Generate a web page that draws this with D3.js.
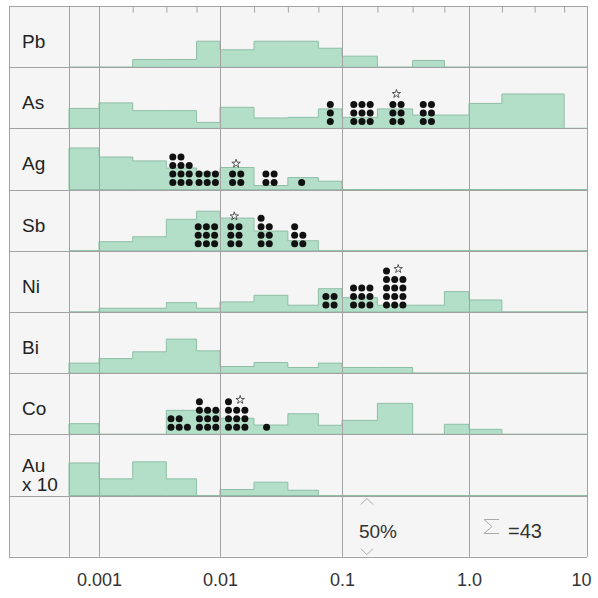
<!DOCTYPE html>
<html>
<head>
<meta charset="utf-8">
<script src="https://cdn.jsdelivr.net/npm/d3@7"></script>
<style>
body { margin: 0; background: #fff; }
svg { display: block; font-family: "Liberation Sans", Arial, Helvetica, sans-serif; }
</style>
</head>
<body>
<svg id="chart" width="598" height="598"></svg>
<script>
// rows, top to bottom
var elements = ["Pb", "As", "Ag", "Sb", "Ni", "Bi", "Co", "Au"];
var rowLabels = [["Pb"], ["As"], ["Ag"], ["Sb"], ["Ni"], ["Bi"], ["Co"], ["Au", "x 10"]];

// class limits of the histograms
var binEdges = [0.000565, 0.001, 0.0019, 0.0036, 0.0064, 0.01, 0.019, 0.036, 0.064,
                0.1, 0.19, 0.36, 0.64, 1, 1.9, 3.6, 6.4, 10];

// frequency (%) of each class
var histPb = [0, 0, 6.3, 6.3, 21.2, 14.2, 21.2, 21.2, 15.5, 9, 0, 5.5, 0, 0, 0, 0, 0];
var histAs = [16.3, 20.8, 14.5, 14.5, 4.9, 17.2, 8.5, 9, 15.9, 9, 15.9, 10.9, 10.9, 20.4, 28.1, 28.1, 0];
var histAg = [34, 26.6, 23.4, 17.6, 14.2, 18, 3.3, 9.8, 6.8, 0, 0, 0, 0, 0, 0, 0, 0];
var histSb = [0, 7.4, 11.4, 25.7, 32.3, 26.7, 16.1, 8.2, 0, 0, 0, 0, 0, 0, 0, 0, 0];
var histNi = [0, 3, 3, 7.6, 3, 8.2, 13.6, 5.5, 19, 11.7, 5.5, 5.5, 16.6, 9.8, 0, 0, 0];
var histBi = [8.2, 11.9, 17.4, 27.8, 18.2, 5.4, 8.7, 4.6, 8.2, 4.6, 4.6, 0, 0, 0, 0, 0, 0];
var histCo = [8.7, 0, 0, 19.6, 19.6, 13.1, 7.6, 16.8, 7.4, 11.4, 25.3, 0, 8.2, 4.1, 0, 0, 0];
var histAu = [26.6, 13.6, 27.5, 13.6, 0, 4.9, 10.9, 4.3, 0, 0, 0, 0, 0, 0, 0, 0, 0];
var histData = [histPb, histAs, histAg, histSb, histNi, histBi, histCo, histAu];

// single samples: [concentration, number of samples, columns, star]
var dotsAs = [[0.0802, 3, 1, 0], [0.1437, 9, 3, 0], [0.271, 6, 2, 1], [0.47, 6, 2, 0]];
var dotsAg = [[0.00476, 11, 3, 0], [0.00784, 6, 3, 0], [0.0137, 4, 2, 1], [0.0257, 4, 2, 0], [0.0467, 1, 1, 0]];
var dotsSb = [[0.00772, 9, 3, 0], [0.01325, 6, 2, 1], [0.02346, 7, 2, 0], [0.0442, 5, 2, 0]];
var dotsNi = [[0.0797, 4, 2, 0], [0.143, 9, 3, 0], [0.26, 13, 3, 1]];
var dotsCo = [[0.0046, 5, 3, 0], [0.0079, 10, 3, 0], [0.0137, 10, 3, 1], [0.0241, 1, 1, 0]];
var dotData = {As: dotsAs, Ag: dotsAg, Sb: dotsSb, Ni: dotsNi, Co: dotsCo};

var tickValues = [0.001, 0.01, 0.1, 1, 10];
var tickLabels = ["0.001", "0.01", "0.1", "1.0", "10"];
var scaleLabel = "50%";
var scaleValue = 50;
var totalLabel = "=43";

var svg = d3.select("#chart");
var frameLeft = 9, plotLeft = 69, plotRight = 587, plotTop = 6, plotBottom = 556.7;
var gridColor = "#a2a2a2";

var x = d3.scaleLog()
    .domain([binEdges[0], 0.001, 0.01, 0.1, 1, 10])
    .range([plotLeft, 99, 220, 342, 469, plotRight]);

var rows = elements.concat(["legend"]);
var y = d3.scaleBand().domain(rows).range([plotTop, plotBottom]);
var h = d3.scaleLinear().domain([0, scaleValue]).range([0, y.bandwidth()]);

svg.append("rect")
    .attr("x", frameLeft).attr("y", plotTop)
    .attr("width", plotRight - frameLeft).attr("height", plotBottom - plotTop)
    .attr("fill", "#f5f5f5");

// histograms
var area = d3.area()
    .curve(d3.curveStepAfter)
    .x(function(d) { return x(d.e); })
    .y0(function(d) { return d.base; })
    .y1(function(d) { return d.base - h(d.v); });

elements.forEach(function(el, i) {
    var vals = histData[i];
    var base = y(el) + y.bandwidth();
    var pts = binEdges.map(function(e, j) {
        return {e: e, v: vals[Math.min(j, vals.length - 1)], base: base};
    });
    svg.append("path")
        .datum(pts)
        .attr("d", area)
        .attr("fill", "#b3dfc9")
        .attr("stroke", "#8fbea6")
        .attr("stroke-width", 1);
});

// grid
var hLines = rows.map(function(r) { return y(r); }).concat([plotBottom]);
svg.append("g").selectAll("line")
    .data(hLines)
    .enter().append("line")
    .attr("x1", frameLeft).attr("x2", plotRight)
    .attr("y1", function(d) { return Math.round(d) + 0.5; })
    .attr("y2", function(d) { return Math.round(d) + 0.5; })
    .attr("stroke", gridColor);

var vLines = [frameLeft, plotLeft].concat(tickValues.map(function(t) { return x(t); }));
svg.append("g").selectAll("line")
    .data(vLines)
    .enter().append("line")
    .attr("x1", function(d) { return Math.round(d) + 0.5; })
    .attr("x2", function(d) { return Math.round(d) + 0.5; })
    .attr("y1", plotTop).attr("y2", plotBottom)
    .attr("stroke", gridColor);

// small ticks on top at the class limits
var minorTicks = binEdges.filter(function(e, j) {
    return j > 0 && tickValues.indexOf(e) < 0;
});
var topAxis = svg.append("g")
    .attr("transform", "translate(0," + (Math.round(plotTop) + 0.5) + ")")
    .call(d3.axisTop(x).tickValues(minorTicks).tickSize(-6).tickFormat(""));
topAxis.select(".domain").remove();
topAxis.selectAll("line").attr("stroke", gridColor);

// row labels
elements.forEach(function(el, i) {
    var lines = rowLabels[i];
    var y0 = y(el) + (lines.length > 1 ? 38 : 42);
    svg.append("text")
        .attr("x", 22)
        .attr("font-size", 19)
        .attr("fill", "#222")
        .selectAll("tspan")
        .data(lines)
        .enter().append("tspan")
        .attr("x", 22)
        .attr("y", function(d, k) { return y0 + k * 19; })
        .text(function(d) { return d; });
});

// dots
var dx = 8.2, dy = 8.5, rad = 3.5;
var star = d3.symbol().type(d3.symbolStar).size(22);
Object.keys(dotData).forEach(function(el) {
    var base = y(el) + y.bandwidth();
    var g = svg.append("g");
    dotData[el].forEach(function(grp) {
        var cx = x(grp[0]), n = grp[1], cols = grp[2];
        var slot = function(k) {
            var r = Math.floor(k / cols), c = k % cols;
            return [cx + (c - (cols - 1) / 2) * dx, base - 7 - r * dy];
        };
        g.selectAll(null)
            .data(d3.range(n))
            .enter().append("circle")
            .attr("cx", function(k) { return slot(k)[0]; })
            .attr("cy", function(k) { return slot(k)[1]; })
            .attr("r", rad)
            .attr("fill", "#111");
        if (grp[3]) {
            var p = slot(n);
            g.append("path")
                .attr("d", star)
                .attr("transform", "translate(" + (p[0] + 3.5) + "," + (p[1] - 2) + ")")
                .attr("fill", "#fff")
                .attr("stroke", "#444")
                .attr("stroke-width", 0.9);
        }
    });
});

// legend row: 50% height bar and total
var legTop = y("legend"), legBot = legTop + y.bandwidth();
var cxArrow = x(0.157);
svg.append("path")
    .attr("d", "M" + (cxArrow - 6) + "," + (legTop + 9) + "L" + cxArrow + "," + (legTop + 3) + "L" + (cxArrow + 6) + "," + (legTop + 9)
        + "M" + (cxArrow - 6) + "," + (legBot - 8) + "L" + cxArrow + "," + (legBot - 2) + "L" + (cxArrow + 6) + "," + (legBot - 8))
    .attr("fill", "none")
    .attr("stroke", "#aaa")
    .attr("stroke-width", 1);
svg.append("text")
    .attr("x", cxArrow - 8)
    .attr("y", legTop + 42)
    .attr("font-size", 19)
    .attr("fill", "#333")
    .text(scaleLabel);

var sx = x(1) + 15, sy = legTop + 24;
svg.append("path")
    .attr("d", "M" + (sx + 15) + "," + sy + "H" + sx + "L" + (sx + 8) + "," + (sy + 7)
        + "L" + sx + "," + (sy + 14) + "H" + (sx + 15))
    .attr("fill", "none")
    .attr("stroke", "#aaa")
    .attr("stroke-width", 1);
svg.append("text")
    .attr("x", sx + 24)
    .attr("y", legTop + 42)
    .attr("font-size", 20)
    .attr("fill", "#333")
    .text(totalLabel);

// x axis labels
var xAxis = svg.append("g")
    .attr("transform", "translate(0," + plotBottom + ")")
    .call(d3.axisBottom(x)
        .tickValues(tickValues)
        .tickFormat(function(d, i) { return tickLabels[i]; })
        .tickSize(0)
        .tickPadding(17));
xAxis.select(".domain").remove();
xAxis.attr("font-size", 18).attr("font-family", null);
xAxis.selectAll("text").attr("fill", "#333");
// last label sits inside the right edge
xAxis.selectAll("text").filter(function(d) { return d === 10; }).attr("dx", -6);
</script>
</body>
</html>
